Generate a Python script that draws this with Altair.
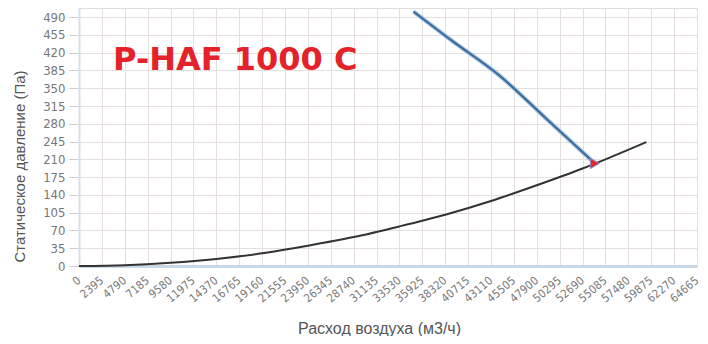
import altair as alt
import pandas as pd

# Air flow (m3/h) tick labels
x_ticks = [i * 2395 for i in range(28)]
y_ticks = [i * 35 for i in range(15)]

# System curve
sys_q = [0, 4790, 9580, 14370, 19160, 23950, 28740, 33530, 38320, 43110, 47900, 52690, 55085, 59372]
sys_p = [0, 1.6, 6.4, 14, 25, 40, 57, 78, 101, 128, 159, 192, 210, 244]

# Fan curve
fan_q = [35002, 38922, 43937, 48955, 53973]
fan_p = [501, 445, 376, 289, 202]

# Operating point
op_q = [53973]
op_p = [202]

title_text = "P-HAF 1000 C"

sys_df = pd.DataFrame({"q": sys_q, "p": sys_p})
fan_df = pd.DataFrame({"q": fan_q, "p": fan_p})
op_df = pd.DataFrame({"q": op_q, "p": op_p})

xs = alt.Scale(domain=[0, 64665], nice=False, zero=False)
ys = alt.Scale(domain=[0, 508], nice=False)

x_axis = alt.Axis(
    values=x_ticks, tickCount=40, format="d", labelAngle=-40, labelAlign="right",
    labelBaseline="middle",
    labelFont="DejaVu Sans Condensed", labelFontSize=11.5, labelColor="#7a7a7a",
    labelOverlap=False, labelPadding=13, ticks=False, labelFlush=False,
    domainColor="#c9d6e3", domainWidth=3,
    gridColor="#e6dede", gridWidth=1,
    title="Расход воздуха (м3/ч)", titleFont="Liberation Sans", titleFontSize=16,
    titleFontWeight="normal", titleColor="#555555", titleX=300, titleY=67,
    titleBaseline="alphabetic",
)
y_axis = alt.Axis(
    values=y_ticks, tickCount=40, format="d", labelFont="DejaVu Sans Condensed",
    labelFontSize=13, labelOverlap=False, labelFlush=False,
    labelColor="#777777", tickColor="#cccccc", tickSize=10, labelPadding=4,
    domainColor="#d4e0ec", domainWidth=2,
    gridColor="#e6dede", gridWidth=1,
    title="Статическое давление (Па)", titleFont="Liberation Sans", titleFontSize=15,
    titleFontWeight="normal", titleColor="#555555", titleX=-52, titleY=158,
)

base_x = alt.X("q:Q", scale=xs, axis=x_axis)
base_y = alt.Y("p:Q", scale=ys, axis=y_axis)

sys_line = alt.Chart(sys_df).mark_line(color="#333333", strokeWidth=2, interpolate="monotone").encode(
    x=base_x, y=base_y)
fan_halo = alt.Chart(fan_df).mark_line(color="#b4cce4", strokeWidth=4.5, interpolate="monotone").encode(
    x=alt.X("q:Q", scale=xs), y=alt.Y("p:Q", scale=ys))
fan_line = alt.Chart(fan_df).mark_line(color="#3d6d9e", strokeWidth=2.2, interpolate="monotone").encode(
    x=alt.X("q:Q", scale=xs), y=alt.Y("p:Q", scale=ys))
op_pt = alt.Chart(op_df).mark_point(shape="triangle-right", filled=True, color="#e0282e",
                                     stroke="#8a96d4", strokeWidth=1, size=110, opacity=1).encode(
    x=alt.X("q:Q", scale=xs), y=alt.Y("p:Q", scale=ys))

title = alt.Chart(pd.DataFrame({"t": [title_text]})).mark_text(
    font="DejaVu Sans", fontSize=32, fontWeight="bold", color="#e3222a", align="left",
    baseline="alphabetic").encode(text="t:N", x=alt.value(34), y=alt.value(62))

chart = alt.layer(sys_line, fan_halo, fan_line, op_pt, title).properties(
    width=618, height=258,
    autosize=alt.AutoSizeParams(type="none"),
    padding={"left": 71, "top": 0, "right": 3, "bottom": 70},
).configure_view(stroke=None).configure(background="white")

chart.save("out.html", embed_options={"renderer": "svg", "actions": False})
